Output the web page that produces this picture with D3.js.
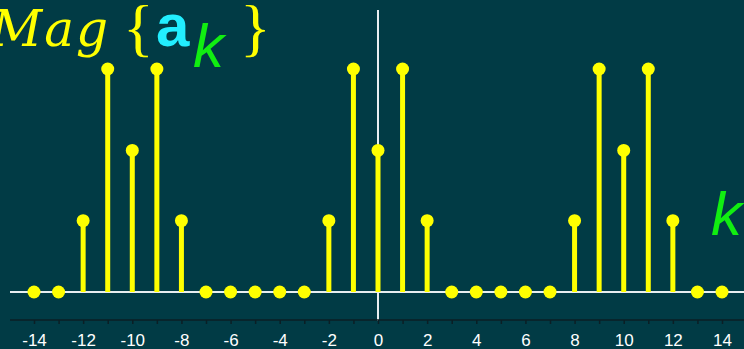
<!DOCTYPE html>
<html><head><meta charset="utf-8">
<script src="https://cdn.jsdelivr.net/npm/d3@7"></script>
<style>html,body{margin:0;padding:0;background:#013b45;overflow:hidden}</style>
</head><body>
<svg id="c" width="744" height="349"></svg>
<script>
const kValues = d3.range(-14, 15);
const magnitudes = [0,0,0.32,1,0.635,1,0.32,0,0,0,0,0,0.32,1,0.635,1,0.32,0,0,0,0,0,0.32,1,0.635,1,0.32,0,0];
const tickLabels = d3.range(-14, 15, 2);

const W = 744, H = 349;
const svg = d3.select("#c");
svg.append("rect").attr("width", W).attr("height", H).attr("fill", "#013b45");

const x = d3.scaleLinear().domain([-14, 14]).range([34, 722]);
const y = d3.scaleLinear().domain([0, 1]).range([292, 69]);

// baseline
svg.append("line").attr("x1", 10).attr("x2", W).attr("y1", y(0)).attr("y2", y(0))
  .attr("stroke", "#e8eef0").attr("stroke-width", 2);
// vertical axis
svg.append("line").attr("x1", x(0)).attr("x2", x(0)).attr("y1", 10).attr("y2", 321)
  .attr("stroke", "#e8eef0").attr("stroke-width", 2);

// lower tick axis
const axis = d3.axisBottom(x).tickValues(kValues).tickSize(4)
  .tickFormat(d => (tickLabels.includes(d) ? (d < 0 ? "-" + Math.abs(d) : String(d)) : ""));
const gAx = svg.append("g").attr("transform", "translate(0,320)").call(axis);
gAx.select(".domain").remove();
gAx.append("line").attr("x1", 10).attr("x2", W).attr("y1", 0).attr("y2", 0).attr("stroke", "#0b1f25").attr("stroke-width", 1.5);
gAx.selectAll(".tick line").attr("stroke", "#0b1f25").attr("stroke-width", 1.5);
gAx.selectAll(".tick text").attr("fill", "#ffffff").attr("font-family", "Liberation Sans, Arial, sans-serif")
  .attr("font-size", 17).attr("dy", 0).attr("y", 26);

const data = kValues.map((k, i) => ({k, v: magnitudes[i]}));
const g = svg.append("g");
g.selectAll("line.stem").data(data.filter(d => d.v > 0)).join("line")
  .attr("x1", d => x(d.k)).attr("x2", d => x(d.k)).attr("y1", y(0)).attr("y2", d => y(d.v))
  .attr("stroke", "#ffff00").attr("stroke-width", 5);
g.selectAll("circle").data(data).join("circle")
  .attr("cx", d => x(d.k)).attr("cy", d => y(d.v)).attr("r", 6.5).attr("fill", "#ffff00");

// title
svg.append("text").attr("x", -9).attr("y", 46).attr("font-family", "DejaVu Serif, serif").attr("font-style", "italic")
  .attr("fill", "#ffff00").attr("font-size", 50).attr("letter-spacing", 2).text("Mag");
svg.append("text").attr("x", 123).attr("y", 49).attr("font-family", "Liberation Serif, serif")
  .attr("fill", "#ffff00").attr("font-size", 64).text("{");
svg.append("text").attr("x", 156).attr("y", 46).attr("font-family", "Liberation Sans, Arial, sans-serif").attr("font-weight", "bold")
  .attr("fill", "#22eeff").attr("font-size", 60).text("a");
svg.append("text").attr("x", 193).attr("y", 67).attr("font-family", "Liberation Sans, Arial, sans-serif").attr("font-style", "italic")
  .attr("fill", "#11ee11").attr("font-size", 62).text("k");
svg.append("text").attr("x", 240).attr("y", 49).attr("font-family", "Liberation Serif, serif")
  .attr("fill", "#ffff00").attr("font-size", 64).text("}");

svg.append("text").attr("x", 711).attr("y", 235).attr("font-family", "Liberation Sans, Arial, sans-serif")
  .attr("font-style", "italic").attr("fill", "#11ee11").attr("font-size", 62).text("k");
</script>
</body></html>
